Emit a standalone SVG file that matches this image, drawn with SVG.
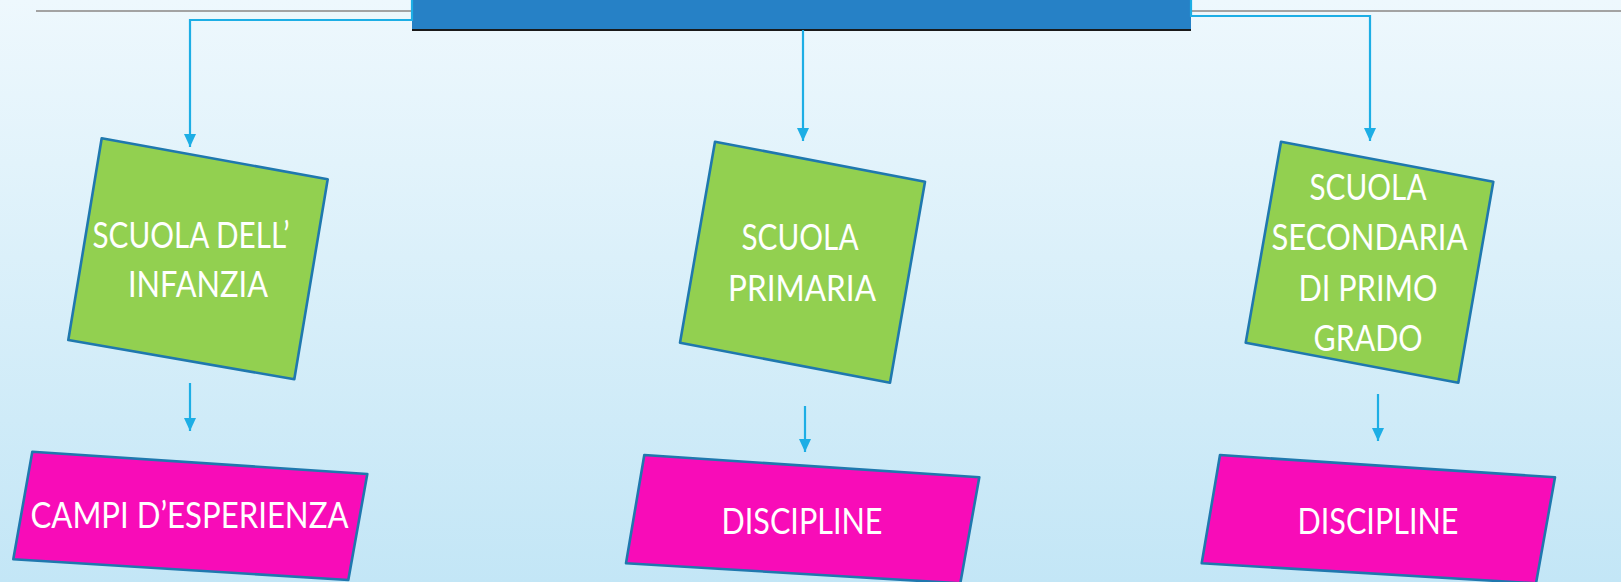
<svg xmlns="http://www.w3.org/2000/svg" width="1621" height="582" viewBox="0 0 1621 582">
<style>
.conn{fill:none;stroke:#1DAEE5;stroke-width:2.2}
.green{fill:#92D050;stroke:#1F78AE;stroke-width:2.6;stroke-linejoin:round}
.pink{fill:#F80CB8;stroke:#1F78AE;stroke-width:2.6;stroke-linejoin:round}
.lbl{font-family:Lato,"Open Sans","Liberation Sans",sans-serif;font-size:37px;fill:#FFFFFF;text-anchor:middle}
</style>
<defs>
<linearGradient id="bg" x1="0" y1="0" x2="0" y2="1">
<stop offset="0" stop-color="#EEF8FD"/>
<stop offset="1" stop-color="#C3E6F6"/>
</linearGradient>
<marker id="ah" markerWidth="13" markerHeight="12" refX="13" refY="6" orient="auto" markerUnits="userSpaceOnUse" viewBox="0 0 13 12">
<path d="M0,0 L13,6 L0,12 Z" fill="#1DAEE5"/>
</marker>
</defs>
<rect x="0" y="0" width="1621" height="582" fill="url(#bg)"/>
<line x1="36" y1="11" x2="1621" y2="11" stroke="#A3A3A3" stroke-width="2"/>
<g id="title">
<rect x="412" y="-2" width="779" height="31" fill="#2681C6"/>
<line x1="412" y1="30" x2="1191" y2="30" stroke="#1A1A1A" stroke-width="2"/>
</g>
<g id="connectors">
<path class="conn" d="M412,0 V20 H190 V147" marker-end="url(#ah)"/>
<path class="conn" d="M1191,0 V16 H1370 V141" marker-end="url(#ah)"/>
<path class="conn" d="M803,30 V141" marker-end="url(#ah)"/>
<path class="conn" d="M190,383 V431" marker-end="url(#ah)"/>
<path class="conn" d="M805,406 V452" marker-end="url(#ah)"/>
<path class="conn" d="M1378,394 V441" marker-end="url(#ah)"/>
</g>
<g id="node-infanzia">
<polygon class="green" points="101.7,138.3 327.7,179.3 294.3,379.3 68.3,340"/>
<text class="lbl" x="191" y="248" textLength="197" lengthAdjust="spacingAndGlyphs">SCUOLA DELL’</text>
<text class="lbl" x="198" y="297" textLength="140" lengthAdjust="spacingAndGlyphs">INFANZIA</text>
</g>
<g id="node-primaria">
<polygon class="green" points="715,141.7 925,181.7 890,382.7 680,342.7"/>
<text class="lbl" x="800" y="250" textLength="117" lengthAdjust="spacingAndGlyphs">SCUOLA</text>
<text class="lbl" x="802" y="301" textLength="148" lengthAdjust="spacingAndGlyphs">PRIMARIA</text>
</g>
<g id="node-secondaria">
<polygon class="green" points="1281,141.7 1493.3,181.7 1458.3,382.7 1245.7,342.7"/>
<text class="lbl" x="1368" y="200" textLength="117" lengthAdjust="spacingAndGlyphs">SCUOLA</text>
<text class="lbl" x="1369.5" y="250" textLength="196" lengthAdjust="spacingAndGlyphs">SECONDARIA</text>
<text class="lbl" x="1368" y="301" textLength="139" lengthAdjust="spacingAndGlyphs">DI PRIMO</text>
<text class="lbl" x="1368" y="351" textLength="109" lengthAdjust="spacingAndGlyphs">GRADO</text>
</g>
<g id="node-campi">
<polygon class="pink" points="32.3,451.7 367.3,474 348.3,580 13.3,559.3"/>
<text class="lbl" x="189.5" y="528" textLength="318" lengthAdjust="spacingAndGlyphs">CAMPI D’ESPERIENZA</text>
</g>
<g id="node-discipline-1">
<polygon class="pink" points="644.3,455 979.3,477.3 960.3,583.3 626,563.3"/>
<text class="lbl" x="802" y="534" textLength="161" lengthAdjust="spacingAndGlyphs">DISCIPLINE</text>
</g>
<g id="node-discipline-2">
<polygon class="pink" points="1220,455 1555,477.3 1536,583.3 1201.7,563.3"/>
<text class="lbl" x="1378" y="534" textLength="161" lengthAdjust="spacingAndGlyphs">DISCIPLINE</text>
</g>
</svg>
